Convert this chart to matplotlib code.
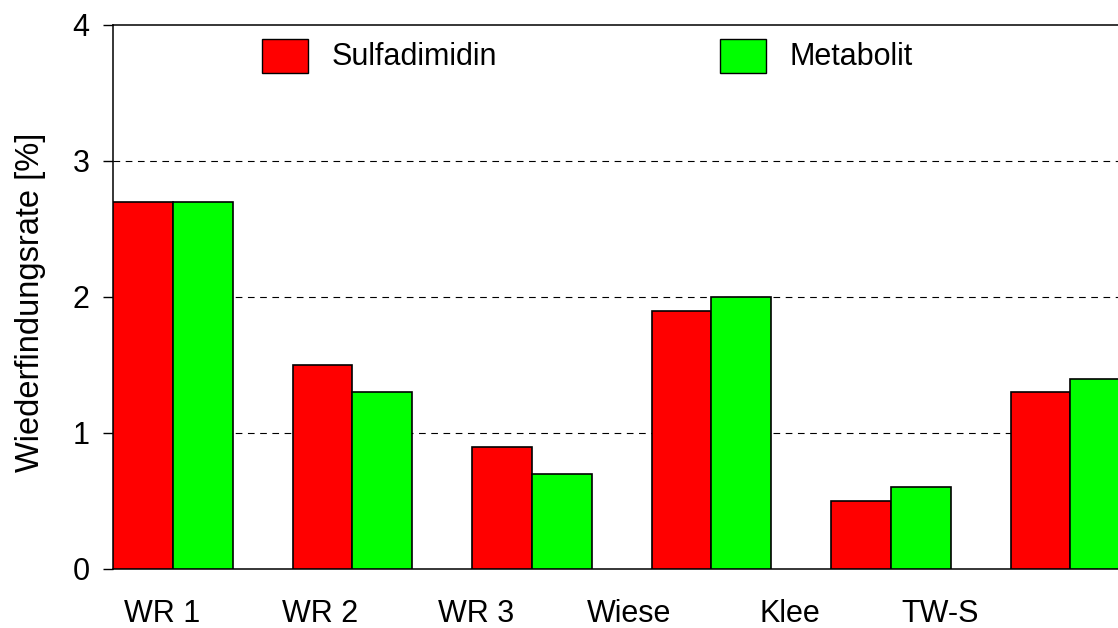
import matplotlib.pyplot as plt
import numpy as np
from matplotlib.patches import Rectangle

from matplotlib import rcParams
rcParams['font.family'] = ['Liberation Sans', 'DejaVu Sans']
rcParams['font.size'] = 22

# data
groups = ['WR 1', 'WR 2', 'WR 3', 'Wiese', 'Klee', 'TW-S', '']
sulfadimidin = [2.7, 1.5, 0.9, 1.9, 0.5, 1.3]
metabolit = [2.7, 1.3, 0.7, 2.0, 0.6, 1.4]
# label positions as they sit in the original (not centred under groups)
label_pos = [-0.061, 0.819, 1.688, 2.540, 3.437, 4.273]

W, H = 1118, 628
fig = plt.figure(figsize=(W/100, H/100), dpi=100)
ax = fig.add_axes([113/W, (H-569)/H, (1190-113)/W, 544/H])

x = np.arange(len(sulfadimidin))
w = 0.334
ax.bar(x - w/2, sulfadimidin, w, color='#ff0000', edgecolor='black', linewidth=1.2, zorder=3)
ax.bar(x + w/2, metabolit, w, color='#00ff00', edgecolor='black', linewidth=1.2, zorder=3)

for yv in [1, 2, 3]:
	ax.axhline(yv, color='black', lw=0.8, dashes=(6, 5), zorder=1)

ax.set_xlim(-w, len(x) - w)
ax.set_ylim(0, 4)
ax.set_yticks([0, 1, 2, 3, 4])
ax.tick_params(axis='y', direction='out', length=7, width=1, pad=10, labelsize=22)
ax.set_xticks([])
for lab, p in zip(groups, label_pos):
	ax.text(p, -0.33, lab, ha='center', va='center', fontsize=22,
		transform=ax.transData, clip_on=False)

for s in ['left', 'top', 'bottom']:
	ax.spines[s].set_linewidth(1.1)
ax.spines['right'].set_visible(False)

ax.set_ylabel('Wiederfindungsrate [%]', fontsize=23.5)
ax.yaxis.set_label_coords(-0.062, 0.49)

# legend drawn by hand in figure pixels
for x0, col, name in [(262, '#ff0000', 'Sulfadimidin'), (720, '#00ff00', 'Metabolit')]:
	fig.patches.append(Rectangle((x0/W, (H-73)/H), 46/W, 34/H, facecolor=col,
		edgecolor='black', lw=1, transform=fig.transFigure))
	fig.text((x0 + 70)/W, (H-57)/H, name, ha='left', va='center', fontsize=22)

fig.savefig('out.png', dpi=100)
